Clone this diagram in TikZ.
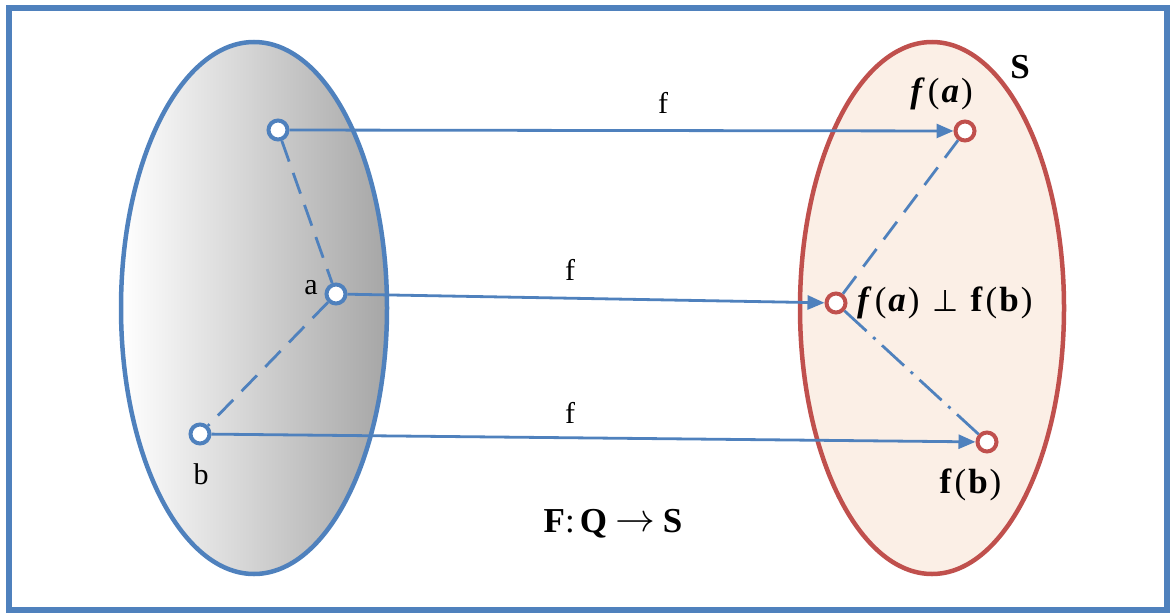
\documentclass[tikz,border=0pt]{standalone}
\usepackage{graphicx}
\usepackage{fontspec}
\setmainfont{Liberation Serif}
\newfontfamily\symfont{DejaVu Sans}
\usetikzlibrary{arrows.meta}
\definecolor{bl}{HTML}{4F81BD}
\definecolor{rd}{HTML}{C0504D}
\definecolor{rfill}{HTML}{FBEFE6}
\definecolor{lgray}{HTML}{A6A6A6}
\newcommand{\lp}{\kern3pt(\kern2pt}
\newcommand{\rp}{\kern2pt)\kern1pt}
\tikzset{
  lpt/.style={circle,draw=bl,fill=white,line width=4pt,minimum size=19pt,inner sep=0pt},
  rpt/.style={circle,draw=rd,fill=white,line width=4pt,minimum size=19pt,inner sep=0pt},
  arr/.style={draw=bl,line width=2.8pt,-{Triangle[length=17pt,width=14pt]}},
  dsh/.style={draw=bl,line width=2.8pt,dash pattern=on 22pt off 12pt},
  dshdot/.style={draw=bl,line width=2.8pt,dash pattern=on 30pt off 9pt on 3pt off 9pt},
  lbl/.style={font=\fontsize{30}{36}\selectfont,inner sep=0pt},
  mlbl/.style={font=\fontsize{35}{40}\selectfont,inner sep=0pt},
}
\begin{document}
\begin{tikzpicture}[x=1pt,y=-1pt]
\useasboundingbox (0,0) rectangle (1170,613);
\draw[bl,line width=6pt] (9,8) rectangle (1167,610);
% left ellipse
\shade[left color=white,right color=lgray] (254,308) ellipse [x radius=133,y radius=266];
\draw[bl,line width=4.5pt] (254,308) ellipse [x radius=133,y radius=266];
% right ellipse
\draw[rd,fill=rfill,line width=4.5pt] (932,308) ellipse [x radius=132,y radius=266];
% points
\node[lpt] (p1) at (278,130) {};
\node[lpt] (pa) at (336,294) {};
\node[lpt] (pb) at (200,434) {};
\node[rpt] (q1) at (965,131) {};
\node[rpt] (qa) at (836,303) {};
\node[rpt] (qb) at (987,442) {};
% dashed
\draw[dsh] (p1) -- (pa);
\draw[dsh] (pa) -- (pb);
\draw[dsh] (q1) -- (qa);
\draw[dshdot] (qa) -- (qb);
% arrows
\draw[arr] (p1) -- (q1);
\draw[arr] (pa) -- (qa);
\draw[arr] (pb) -- (qb);
% labels
\node[lbl] (f1) at (663,103) {f};
\node[lbl] (f2) at (570,270) {f};
\node[lbl] (f3) at (570,413) {f};
\node[lbl] (la) at (311,288) {a};
\node[lbl] (lb) at (201,474) {b};
\node[mlbl] (ls) at (1020,67) {\textbf{S}};
\node[mlbl] (lfa) at (942,94) {\textbf{\textit{f}}\lp\textbf{\textit{a}}\rp};
\node[mlbl,anchor=west] (lperp) at (857,303) {\textbf{\textit{f}}\lp\textbf{\textit{a}}\rp\kern12pt{\symfont\fontsize{30}{36}\selectfont ⊥}\kern12pt\textbf{f}\lp\textbf{b}\rp};
\node[mlbl] (lfb) at (971,485) {\textbf{f}\lp\textbf{b}\rp};
\node[mlbl] (lF) at (613,524) {\textbf{F}:\kern5pt\textbf{Q}\kern8pt\raisebox{1pt}{\scalebox{1.6}{$\rightarrow$}}\kern8pt\textbf{S}};
\end{tikzpicture}
\end{document}
